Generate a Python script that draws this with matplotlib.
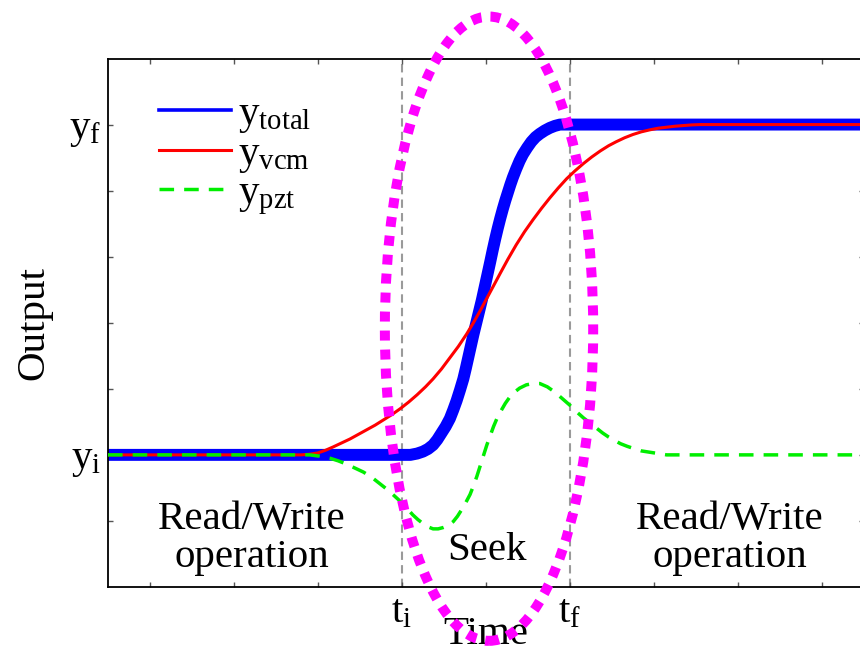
import matplotlib
matplotlib.use("Agg")
import matplotlib.pyplot as plt
from matplotlib.lines import Line2D
from matplotlib.patches import Ellipse

plt.rcParams['font.family'] = ['Liberation Serif', 'DejaVu Serif']
plt.rcParams['mathtext.fontset'] = 'custom'
plt.rcParams['mathtext.rm'] = 'Liberation Serif'
plt.rcParams['mathtext.it'] = 'Liberation Serif:italic'

# ---- data ----
total_x = [0.5, 4.00, 4.10, 4.18, 4.25, 4.31, 4.37, 4.42, 4.47, 4.52, 4.57, 4.61, 4.65,
           4.69, 4.73, 4.76, 4.79, 4.82, 4.85, 4.90, 4.95, 5.00, 5.05, 5.08, 5.11, 5.14,
           5.17, 5.20, 5.23, 5.26, 5.29, 5.32, 5.36, 5.40, 5.44, 5.49, 5.54, 5.59, 5.64,
           5.70, 5.76, 5.82, 5.88, 6.0, 9.5]
total_y = [0.0, 0.0, 0.0, 0.02, 0.05, 0.09, 0.15, 0.23, 0.33, 0.43, 0.55, 0.68, 0.82,
           0.98, 1.15, 1.31, 1.48, 1.65, 1.82, 2.08, 2.34, 2.63, 2.92, 3.10, 3.27, 3.43,
           3.58, 3.72, 3.85, 3.97, 4.09, 4.20, 4.33, 4.45, 4.55, 4.65, 4.74, 4.81, 4.86,
           4.91, 4.95, 4.98, 5.0, 5.0, 5.0]

vcm_x = [0.5, 2.80, 2.90, 3.00, 3.09, 3.18, 3.28, 3.38, 3.48, 3.58, 3.68, 3.78, 3.88,
         3.98, 4.08, 4.18, 4.28, 4.37, 4.47, 4.57, 4.67, 4.77, 4.85, 4.93, 5.01, 5.09,
         5.17, 5.26, 5.36, 5.46, 5.56, 5.66, 5.76, 5.86, 5.96, 6.06, 6.16, 6.26, 6.36,
         6.46, 6.55, 6.65, 6.75, 6.85, 6.95, 7.05, 7.15, 7.25, 7.35, 7.45, 7.55, 9.5]
vcm_y = [0.0, 0.0, 0.01, 0.03, 0.07, 0.12, 0.18, 0.24, 0.31, 0.38, 0.45, 0.53, 0.61,
         0.70, 0.80, 0.91, 1.03, 1.15, 1.30, 1.47, 1.64, 1.83, 2.00, 2.18, 2.37, 2.56,
         2.75, 2.96, 3.18, 3.38, 3.56, 3.73, 3.89, 4.04, 4.18, 4.30, 4.41, 4.51, 4.60,
         4.68, 4.74, 4.80, 4.85, 4.89, 4.92, 4.945, 4.96, 4.975, 4.985, 4.995, 5.0, 5.0]

pzt_x = [0.5, 2.90, 3.02, 3.14, 3.24, 3.34, 3.44, 3.54, 3.63, 3.72, 3.81, 3.90, 3.96,
         4.02, 4.08, 4.13, 4.19, 4.25, 4.31, 4.37, 4.43, 4.49, 4.55, 4.61, 4.66, 4.71,
         4.76, 4.81, 4.85, 4.89, 4.93, 4.97, 5.01, 5.05, 5.09, 5.13, 5.18, 5.23, 5.28,
         5.33, 5.40, 5.48, 5.56, 5.64, 5.73, 5.82, 5.91, 6.00, 6.08, 6.16, 6.24, 6.32,
         6.39, 6.46, 6.53, 6.60, 6.68, 6.75, 6.85, 6.95, 7.05, 7.15, 9.5]
pzt_y = [0.0, 0.0, -0.02, -0.05, -0.09, -0.14, -0.20, -0.26, -0.33, -0.42, -0.51, -0.61, -0.68,
         -0.76, -0.84, -0.91, -0.98, -1.04, -1.09, -1.12, -1.12, -1.10, -1.07, -1.01, -0.93, -0.83,
         -0.72, -0.60, -0.47, -0.33, -0.17, -0.01, 0.15, 0.29, 0.43, 0.55, 0.67, 0.78, 0.87,
         0.94, 1.01, 1.06, 1.08, 1.08, 1.03, 0.95, 0.85, 0.75, 0.65, 0.56, 0.48, 0.40,
         0.33, 0.27, 0.22, 0.17, 0.13, 0.10, 0.06, 0.04, 0.02, 0.0, 0.0]

t_i = 4.0
t_f = 6.0
x_ticks = [1, 2, 3, 4, 5, 6, 7, 8, 9]
x_ticklabels = ['', '', '', r'$\mathrm{t}_{\mathrm{i}}$', '', r'$\mathrm{t}_{\mathrm{f}}$', '', '', '']
y_ticks = [-1, 0, 1, 2, 3, 4, 5]
y_ticklabels = ['', r'$\mathrm{y}_{\mathrm{i}}$', '', '', '', '', r'$\mathrm{y}_{\mathrm{f}}$']
legend_labels = [r'$\mathrm{y}_{\mathrm{total}}$', r'$\mathrm{y}_{\mathrm{vcm}}$', r'$\mathrm{y}_{\mathrm{pzt}}$']

FS = 29.5
W, H = 860, 653
fig = plt.figure(figsize=(W / 100, H / 100), dpi=100)
ax = fig.add_axes([108 / W, 66 / H, 756 / W, 528.5 / H])

ax.axvline(t_i, color='#9a9a9a', lw=1.5, linestyle=(0, (4, 2.5)), zorder=1)
ax.axvline(t_f, color='#9a9a9a', lw=1.5, linestyle=(0, (4, 2.5)), zorder=1)

ax.plot(total_x, total_y, color='#0000ff', lw=8.6, solid_capstyle='butt',
        solid_joinstyle='round', zorder=2)
ax.plot(vcm_x, vcm_y, color='#ff0000', lw=2.2, solid_joinstyle='round', zorder=3)
ax.plot(pzt_x, pzt_y, color='#00ee00', lw=2.5, linestyle=(0, (4.2, 2.9)), zorder=4)

ax.set_xlim(0.5, 9.5)
ax.set_ylim(-2, 6)
ax.set_xticks(x_ticks)
ax.set_xticklabels(x_ticklabels)
ax.set_yticks(y_ticks)
ax.set_yticklabels(y_ticklabels)
ax.tick_params(direction='in', length=3.6, width=1.0, color='#555555', labelsize=FS,
               top=True, right=True, pad=5)
for s in ax.spines.values():
    s.set_linewidth(1.3)

ax.set_xlabel('Time', fontsize=FS, labelpad=-11)
ax.set_ylabel('Output', fontsize=FS, labelpad=12)

handles = [Line2D([], [], color='#0000ff', lw=2.6),
           Line2D([], [], color='#ff0000', lw=2.2),
           Line2D([], [], color='#00ee00', lw=2.5, linestyle=(0, (4.2, 2.9)))]
ax.legend(handles, legend_labels, loc='upper left', bbox_to_anchor=(0.068, 0.93),
          frameon=False, fontsize=FS, handlelength=1.75, handletextpad=0.18,
          labelspacing=0.0, borderpad=0, borderaxespad=0)

ax.text(2.21, -1.27, 'Read/Write\noperation', ha='center', va='center',
        fontsize=FS, linespacing=1.05)
ax.text(7.9, -1.27, 'Read/Write\noperation', ha='center', va='center',
        fontsize=FS, linespacing=1.05)
ax.text(5.01, -1.44, 'Seek', ha='center', va='center', fontsize=FS)

ell = Ellipse((5.036, 1.91), 2.48, 9.45, fill=False, edgecolor='#ff00ff', lw=7.2,
              linestyle=(0, (1, 0.9)), clip_on=False, zorder=10)
ax.add_patch(ell)

fig.savefig('out.png', dpi=100)
